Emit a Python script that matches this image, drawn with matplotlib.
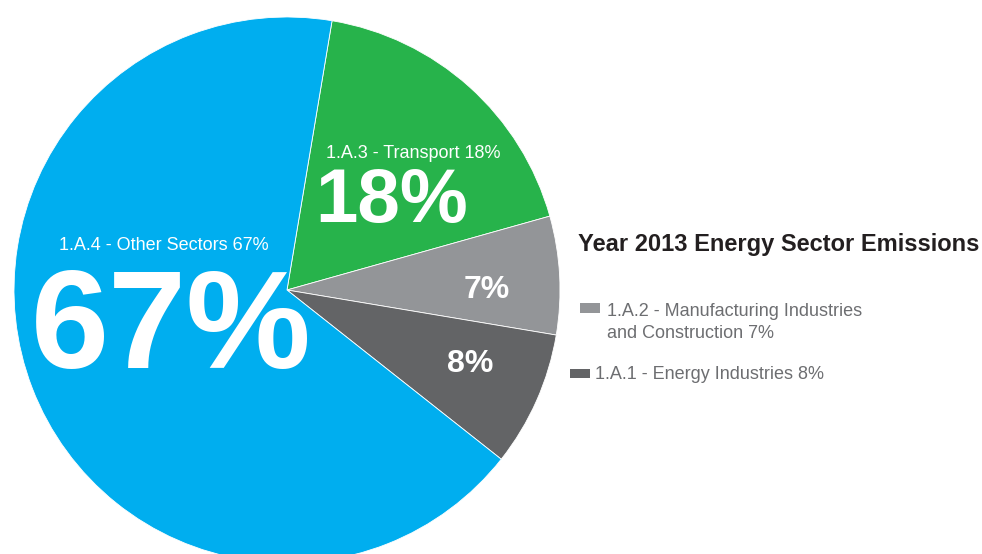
import matplotlib
matplotlib.use("Agg")
import matplotlib.pyplot as plt
from matplotlib.patches import Rectangle

plt.rcParams['font.family'] = ['Liberation Sans', 'DejaVu Sans']

categories = ["1.A.3 - Transport", "1.A.2 - Manufacturing Industries\nand Construction",
              "1.A.1 - Energy Industries", "1.A.4 - Other Sectors"]
values = [18, 7, 8, 67]
colors = ["#27B34B", "#939598", "#636466", "#00AEEF"]
title = "Year 2013 Energy Sector Emissions"

W, H = 982, 554
fig = plt.figure(figsize=(W / 100, H / 100), dpi=100)
ax = fig.add_axes([0, 0, 1, 1])

def Y(y):
    return H - y

ax.pie(values, colors=colors, startangle=80.5, counterclock=False,
       center=(287, Y(290)), radius=273,
       wedgeprops=dict(linewidth=0.6, edgecolor="white"))
ax.set_xlim(0, W)
ax.set_ylim(0, H)
ax.set_aspect("equal")
ax.axis("off")

# in-slice labels
ax.text(164, Y(250), f"{categories[3]} {values[3]}%", color="white", fontsize=13,
        ha="center", va="baseline")
ax.text(171, Y(368), f"{values[3]}%", color="white", fontsize=101, fontweight="bold",
        ha="center", va="baseline")
ax.text(413, Y(158), f"{categories[0]} {values[0]}%", color="white", fontsize=13,
        ha="center", va="baseline")
ax.text(392, Y(222), f"{values[0]}%", color="white", fontsize=55, fontweight="bold",
        ha="center", va="baseline")
ax.text(487, Y(298), f"{values[1]}%", color="white", fontsize=23, fontweight="bold",
        ha="center", va="baseline")
ax.text(470, Y(372), f"{values[2]}%", color="white", fontsize=23, fontweight="bold",
        ha="center", va="baseline")

# title
ax.text(578, Y(251), title, color="#231F20", fontsize=17, fontweight="bold",
        ha="left", va="baseline")

# legend
ax.add_patch(Rectangle((580, Y(313)), 20, 10, color=colors[1], lw=0))
ax.text(607, Y(338), f"{categories[1]} {values[1]}%", color="#6D6E71", fontsize=13,
        ha="left", va="baseline", linespacing=1.38)
ax.add_patch(Rectangle((570, Y(378)), 20, 9, color=colors[2], lw=0))
ax.text(595, Y(379), f"{categories[2]} {values[2]}%", color="#6D6E71", fontsize=13,
        ha="left", va="baseline")

fig.savefig("out.png", dpi=100)
